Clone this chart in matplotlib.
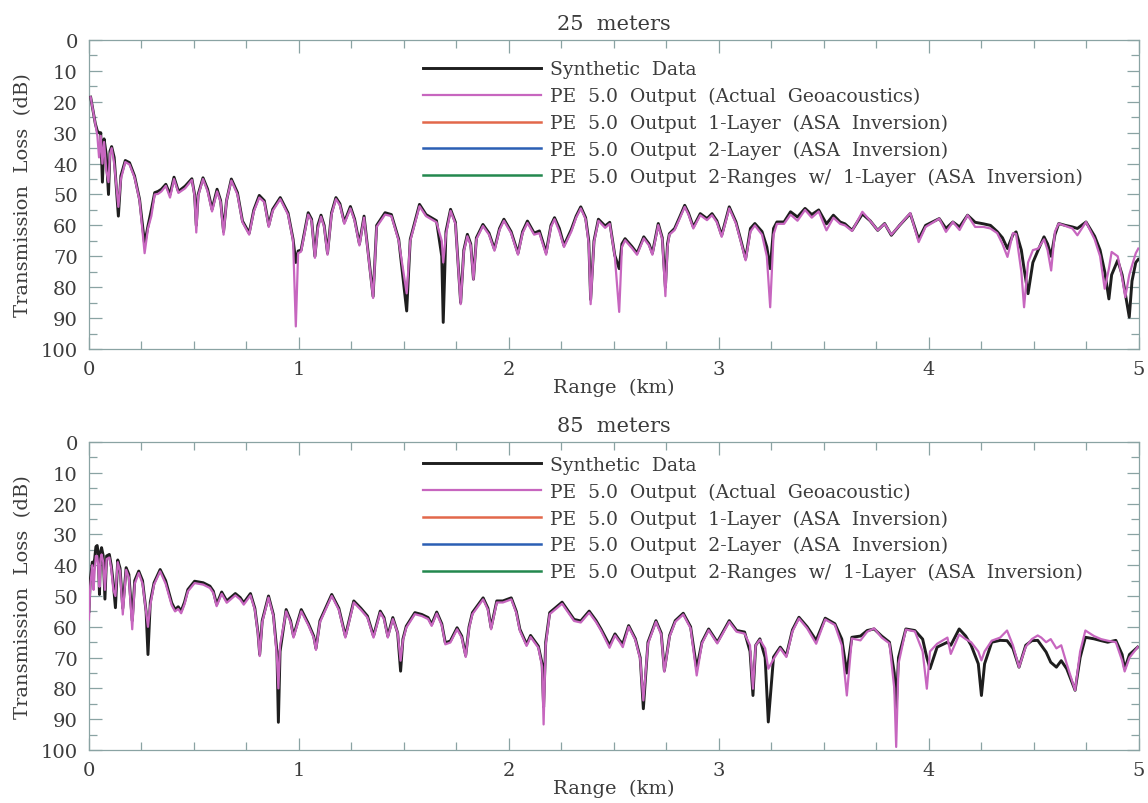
import matplotlib
matplotlib.use('Agg')
import matplotlib.pyplot as plt
import numpy as np
from matplotlib.ticker import MultipleLocator

plt.rcParams['font.family'] = ['DejaVu Serif']
plt.rcParams['font.size'] = 13.5

# ---- 25 m receiver ----
r_25 = [0.008, 0.03, 0.04, 0.048, 0.056, 0.064, 0.072, 0.082, 0.093, 0.100,
        0.108, 0.120, 0.14, 0.152, 0.173, 0.193, 0.217, 0.241, 0.265, 0.281,
        0.297, 0.313, 0.329, 0.345, 0.366, 0.386, 0.405, 0.426, 0.458, 0.49,
        0.503, 0.511, 0.52, 0.543, 0.565, 0.586, 0.61, 0.627, 0.641, 0.655,
        0.678, 0.707, 0.731, 0.763, 0.785, 0.811, 0.835, 0.856, 0.875, 0.911,
        0.948, 0.972, 0.985, 0.996, 1.01, 1.044, 1.06, 1.076, 1.09, 1.105,
        1.12, 1.136, 1.155, 1.176, 1.195, 1.216, 1.245, 1.265, 1.288, 1.31,
        1.353, 1.37, 1.41, 1.44, 1.475, 1.513, 1.53, 1.574, 1.605, 1.63,
        1.655, 1.68, 1.687, 1.70, 1.722, 1.745, 1.77, 1.785, 1.802, 1.818,
        1.831, 1.845, 1.876, 1.905, 1.931, 1.955, 1.976, 2.01, 2.043, 2.065,
        2.088, 2.12, 2.145, 2.177, 2.20, 2.217, 2.24, 2.262, 2.297, 2.32,
        2.342, 2.365, 2.38, 2.389, 2.405, 2.426, 2.458, 2.48, 2.504, 2.525,
        2.538, 2.553, 2.585, 2.61, 2.642, 2.667, 2.683, 2.711, 2.73, 2.745,
        2.755, 2.764, 2.789, 2.813, 2.837, 2.855, 2.878, 2.911, 2.943, 2.967,
        2.99, 3.013, 3.049, 3.081, 3.105, 3.127, 3.15, 3.171, 3.205, 3.228,
        3.244, 3.26, 3.276, 3.31, 3.341, 3.374, 3.41, 3.442, 3.475, 3.512,
        3.545, 3.577, 3.60, 3.634, 3.683, 3.72, 3.756, 3.789, 3.821, 3.86,
        3.911, 3.951, 3.984, 4.016, 4.049, 4.081, 4.114, 4.146, 4.184, 4.22,
        4.26, 4.293, 4.325, 4.35, 4.374, 4.40, 4.415, 4.44, 4.453, 4.472,
        4.495, 4.52, 4.548, 4.565, 4.582, 4.60, 4.618, 4.65, 4.683, 4.707,
        4.748, 4.789, 4.815, 4.837, 4.857, 4.87, 4.899, 4.92, 4.935, 4.954,
        4.967, 4.985, 4.997]
tl_25_syn = [18.5, 27, 29.5, 30, 30, 46, 32, 37, 50, 36,
             34.5, 38, 57, 44, 39, 39.7, 44, 51.6, 66, 60.2,
             55, 49.4, 49, 48.3, 46.7, 50, 44.4, 49, 47.3, 44.9,
             50, 60, 50, 44.6, 48.3, 54.8, 48.3, 52, 62, 52,
             45, 49.4, 58.6, 62.5, 55, 50.3, 52, 60, 54.8, 51,
             56, 64.5, 72, 68.3, 68, 55.9, 58, 70, 60, 56.7,
             60, 69, 56, 51, 53, 59, 53.9, 58, 66, 57,
             83, 60, 55.9, 56.5, 64.5, 87.7, 64.5, 53.2, 56.5, 57.5,
             58.5, 70, 91.4, 62, 54.8, 59, 85, 68, 62.9, 66,
             77.4, 64, 59.7, 62.5, 67.7, 61, 58, 62, 69, 62,
             58.6, 62.5, 61.8, 68.8, 60, 57.5, 61, 66.5, 61.3, 57,
             54, 57.5, 65, 84, 65, 58, 60.2, 59, 69.7, 74,
             66, 64.3, 66.8, 69, 63.7, 66, 69, 59.4, 64, 80,
             66, 62.7, 61, 57.3, 53.5, 56, 60.5, 56.2, 57.8, 56.2,
             58.5, 63.2, 54, 58.9, 65, 70.8, 61, 59.4, 62, 67,
             74, 61, 58.9, 58.9, 55.6, 57.3, 54.5, 56.5, 55, 59.5,
             56.7, 58.9, 59.5, 61.6, 56.3, 58.5, 61.6, 59.4, 63.2, 60,
             56.2, 64.5, 60, 58.9, 57.8, 61, 58.9, 60.5, 56.7, 59,
             59.5, 60, 62, 64, 67.5, 63, 62.1, 68, 74, 82.1,
             72, 68, 63.7, 66, 70, 63, 59.4, 60, 60.5, 61,
             58.9, 63.5, 68, 75, 83.8, 76, 71.3, 76, 82, 89.7,
             78, 72, 71]
tl_25_pe = [18.5, 27, 31, 38, 31, 40, 33, 42, 46, 37,
            35, 40, 54, 45, 39.5, 40.3, 44.5, 52, 69, 61,
            57, 50, 49.8, 49, 47.2, 51, 45, 49.5, 48, 45.3,
            50.5, 62.3, 50.5, 45, 49, 55.5, 49, 52.5, 63, 52,
            45.5, 50, 59, 63, 55.5, 51, 52.5, 60.5, 55.3, 51.5,
            56.5, 65, 92.7, 69, 68.5, 56.5, 58.5, 70.5, 61, 57.2,
            60.5, 69.5, 56.5, 51.5, 53.5, 59.5, 54.5, 58.5, 66.5, 57.5,
            83.5, 60.5, 56.5, 57, 65, 82, 65, 53.8, 57, 58,
            59, 65, 72, 63, 55.3, 59.5, 85.5, 68.5, 63.5, 66.5,
            77.5, 64.5, 60.2, 63, 68.2, 61.5, 58.5, 62.5, 69.5, 62.5,
            59.2, 63, 62.5, 69.5, 60.5, 58, 62, 67, 62, 57.5,
            54.5, 58, 66, 85.5, 65.5, 58.5, 60.8, 59.5, 70, 88,
            67, 64.8, 67.3, 69.5, 64.2, 66.5, 69.5, 59.9, 64.5, 82.9,
            67, 63, 61.5, 57.8, 54, 56.5, 61, 56.7, 58.3, 56.7,
            59, 63.7, 54.5, 59.4, 65.5, 71.3, 62, 60, 63, 70,
            86.5, 63, 59.5, 59.5, 56.5, 58.5, 55, 57.5, 55.5, 61.6,
            57.5, 59.5, 60, 61.8, 55.6, 58.5, 61.6, 59.5, 63, 60,
            56, 65.4, 60.5, 59.2, 57.8, 62.1, 58.9, 61.5, 56.7, 60.5,
            60.5, 61, 62.5, 66, 70.2, 62.5, 62.8, 75, 86.5, 72,
            68, 67.5, 64.5, 68, 74.6, 62, 59.4, 60.2, 61, 63.2,
            58.9, 64.5, 70, 80.5, 74, 68.6, 70, 77, 83.2, 76,
            73, 69, 67.5]

# ---- 85 m receiver ----
r_85 = [0.0, 0.006, 0.016, 0.022, 0.027, 0.033, 0.039, 0.044, 0.05, 0.055,
        0.06, 0.068, 0.076, 0.084, 0.097, 0.106, 0.116, 0.126, 0.137, 0.148,
        0.161, 0.177, 0.19, 0.206, 0.218, 0.237, 0.255, 0.272, 0.281, 0.292,
        0.31, 0.339, 0.365, 0.394, 0.41, 0.425, 0.439, 0.455, 0.471, 0.503,
        0.544, 0.576, 0.592, 0.608, 0.632, 0.656, 0.697, 0.72, 0.737, 0.769,
        0.79, 0.805, 0.813, 0.825, 0.855, 0.878, 0.895, 0.902, 0.91, 0.939,
        0.96, 0.974, 1.011, 1.045, 1.07, 1.081, 1.10, 1.156, 1.19, 1.221,
        1.261, 1.295, 1.326, 1.355, 1.387, 1.405, 1.423, 1.447, 1.47, 1.484,
        1.495, 1.511, 1.552, 1.585, 1.615, 1.632, 1.656, 1.68, 1.697, 1.721,
        1.753, 1.775, 1.794, 1.81, 1.826, 1.877, 1.90, 1.915, 1.942, 1.971,
        2.011, 2.035, 2.052, 2.084, 2.103, 2.14, 2.158, 2.165, 2.175, 2.194,
        2.253, 2.31, 2.342, 2.382, 2.415, 2.439, 2.479, 2.505, 2.526, 2.542,
        2.57, 2.602, 2.625, 2.64, 2.662, 2.7, 2.725, 2.74, 2.765, 2.792,
        2.83, 2.865, 2.894, 2.919, 2.951, 2.992, 3.049, 3.084, 3.122, 3.148,
        3.162, 3.175, 3.195, 3.22, 3.235, 3.26, 3.292, 3.321, 3.35, 3.381,
        3.42, 3.463, 3.506, 3.552, 3.585, 3.609, 3.633, 3.674, 3.706, 3.739,
        3.775, 3.812, 3.835, 3.844, 3.855, 3.89, 3.933, 3.97, 3.99, 4.005,
        4.039, 4.088, 4.104, 4.144, 4.175, 4.201, 4.235, 4.25, 4.265, 4.299,
        4.339, 4.372, 4.40, 4.429, 4.461, 4.49, 4.518, 4.535, 4.558, 4.58,
        4.607, 4.63, 4.656, 4.696, 4.72, 4.745, 4.786, 4.82, 4.851, 4.89,
        4.92, 4.932, 4.955, 4.994]
tl_85_syn = [55, 45, 39, 40, 38, 34, 33.6, 36, 49.5, 36,
             34.3, 37, 51, 37, 36.5, 40, 46, 53.8, 38.3, 41,
             54, 40.8, 43, 58, 45, 41.9, 45, 55, 69, 52,
             45.7, 41.4, 45, 52.2, 54.4, 53.5, 54.9, 52, 47.9, 45.2,
             45.7, 46.8, 48.4, 52.7, 48.7, 51.6, 49.2, 50.5, 52.2, 49.2,
             54, 62, 69, 58, 50, 56, 68, 91, 68, 54.4,
             58, 63, 54.4, 59, 63, 67, 58, 49.5, 54, 63,
             51.6, 54, 56.5, 63, 54.9, 57, 63, 57, 62, 74.4,
             64, 59.8, 55.4, 56, 57, 59.2, 55.2, 59, 65.2, 64.6,
             60.3, 63, 69.3, 60, 55.4, 50.6, 54, 60.3, 51.6, 51.6,
             50.6, 55, 60.8, 65.7, 62.8, 66.3, 72, 86, 65, 55.4,
             52, 57.6, 58.1, 54.9, 58, 60.8, 66, 62.3, 64.4, 65.5,
             59.6, 63.9, 70, 86.6, 65, 58, 62, 74.2, 62.8, 58,
             55.6, 60, 73.6, 65, 60.7, 65, 58, 61.2, 61.7, 68,
             82.3, 66, 63.9, 70, 90.9, 69.8, 66.6, 69.3, 61, 56.9,
             60, 64.4, 57.2, 59, 64, 75, 63.4, 63, 61.2, 60.7,
             63, 65, 75, 86.6, 70, 60.7, 61.2, 64, 70, 73.6,
             66.6, 65, 66, 60.7, 63, 66, 72, 82.3, 72, 65,
             64.4, 64.5, 67, 73.1, 66, 64.5, 64.4, 66, 68.2, 71.5,
             73.1, 71, 73.6, 80.6, 70, 63.4, 63.9, 64.5, 65, 64.4,
             69, 73.6, 69, 66.6]
tl_85_pe = [57.6, 46.8, 40, 48, 42, 37, 37, 40, 47, 38,
            36.5, 39, 48, 38, 37.5, 41, 48, 50, 39, 42,
            56, 41.5, 44, 60.8, 46, 42.5, 46, 55, 60, 53,
            46.3, 42, 46, 53, 55, 54.2, 55.6, 52.7, 48.5, 45.8,
            46.3, 47.4, 49, 53.3, 49.3, 52.2, 49.8, 51.1, 52.8, 49.8,
            54.5, 62.5, 69.5, 58.5, 50.5, 56.5, 70, 80, 66, 55,
            58.5, 63.5, 55, 59.5, 63.5, 67.5, 58.5, 50, 54.5, 63.5,
            52.1, 54.5, 57, 63.5, 55.4, 57.5, 63.5, 57.5, 62, 71,
            64.5, 60.3, 55.9, 56.5, 57.5, 59.7, 55.7, 59.5, 65.7, 65.1,
            60.8, 63.5, 69.8, 60.5, 55.9, 51.1, 54.5, 60.8, 52.1, 52.1,
            51.1, 55.5, 61.3, 66.2, 63.3, 66.8, 73, 91.7, 66, 55.9,
            52.5, 58.1, 58.6, 55.4, 58.5, 61.3, 66.8, 62.8, 64.8, 66.6,
            60, 64.3, 70.5, 83.9, 65.5, 58.4, 62.5, 74.6, 63.2, 58.4,
            56, 60.5, 75.8, 65.4, 61.1, 65.4, 58.4, 61.6, 62.2, 66,
            80.1, 66, 64.2, 67, 73.6, 70.5, 67, 69.8, 61.5, 57.3,
            60.5, 65.5, 57.6, 59.4, 66, 82.3, 63.8, 64.4, 61.6, 60.5,
            63.5, 65.4, 80, 99, 72, 60.9, 61.5, 68, 80.1, 68,
            65.5, 63.5, 68.8, 62.5, 64, 65, 68, 70.9, 68, 64.5,
            63.5, 61.2, 66, 73.1, 66.5, 64, 62.8, 63.5, 65, 64,
            67, 66, 72, 80.6, 68, 61.2, 63, 64, 64.5, 65,
            71, 74.5, 70, 66.6]

labels_25 = ['Synthetic  Data',
             'PE  5.0  Output  (Actual  Geoacoustics)',
             'PE  5.0  Output  1-Layer  (ASA  Inversion)',
             'PE  5.0  Output  2-Layer  (ASA  Inversion)',
             'PE  5.0  Output  2-Ranges  w/  1-Layer  (ASA  Inversion)']
labels_85 = ['Synthetic  Data',
             'PE  5.0  Output  (Actual  Geoacoustic)',
             'PE  5.0  Output  1-Layer  (ASA  Inversion)',
             'PE  5.0  Output  2-Layer  (ASA  Inversion)',
             'PE  5.0  Output  2-Ranges  w/  1-Layer  (ASA  Inversion)']
colors = ['#1e1e1e', '#c766bf', '#e2684a', '#2b5fb4', '#23884e']

frame_col = '#8aa3a3'
text_col = '#3c3c3c'

fig = plt.figure(figsize=(11.48, 8.04), dpi=100)
ax1 = fig.add_axes([0.0775, 0.5647, 0.9146, 0.3843])
ax2 = fig.add_axes([0.0775, 0.0659, 0.9146, 0.3831])

panels = [(ax1, '25  meters', r_25, tl_25_syn, tl_25_pe, labels_25, 0.934),
          (ax2, '85  meters', r_85, tl_85_syn, tl_85_pe, labels_85, 0.955)]

for ax, title, r, syn, pe, labels, leg_y in panels:
    ax.plot(r, syn, color=colors[0], lw=2.1, label=labels[0], zorder=3)
    ax.plot(r, pe, color=colors[1], lw=1.6, label=labels[1], zorder=4)
    # inversion results share the legend
    for c, lab in zip(colors[2:], labels[2:]):
        ax.plot([], [], color=c, lw=1.8, label=lab)

    ax.set_xlim(0, 5)
    ax.set_ylim(100, 0)
    ax.xaxis.set_major_locator(MultipleLocator(1))
    ax.xaxis.set_minor_locator(MultipleLocator(0.25))
    ax.yaxis.set_major_locator(MultipleLocator(10))
    ax.yaxis.set_minor_locator(MultipleLocator(5))
    ax.tick_params(which='both', direction='in', top=True, right=True,
                   color=frame_col, labelcolor=text_col, labelsize=14, width=0.9)
    ax.tick_params(which='major', length=9, pad=8)
    ax.tick_params(which='minor', length=5.5)
    for s in ax.spines.values():
        s.set_color(frame_col)
        s.set_linewidth(0.9)

    ax.set_title(title, color=text_col, fontsize=15, pad=8)
    ax.set_xlabel('Range  (km)', color=text_col, fontsize=14, labelpad=0)
    ax.set_ylabel('Transmission  Loss  (dB)', color=text_col, fontsize=14, labelpad=6)

    leg = ax.legend(loc='upper left', bbox_to_anchor=(0.318, leg_y), frameon=False,
                    handlelength=6.3, handletextpad=0.5, labelspacing=0.46,
                    borderpad=0, borderaxespad=0, fontsize=13.5)
    for t in leg.get_texts():
        t.set_color(text_col)

fig.savefig('out.png', dpi=100)
